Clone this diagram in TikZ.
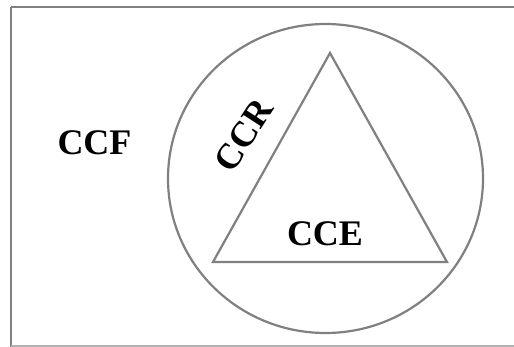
\documentclass[tikz,border=0pt]{standalone}
\usepackage{fontspec}
\setmainfont{Liberation Serif}
\begin{document}
\begin{tikzpicture}[x=1pt,y=-1pt,
  shapeline/.style={draw=black!50, line width=2.2pt},
  lbl/.style={font=\fontsize{36}{36}\selectfont\bfseries, inner sep=0pt, text=black}]
\useasboundingbox (0,0) rectangle (514,347);
\begin{scope}
\clip (0,0) rectangle (514,347);
\draw[shapeline] (11,7) -- (520,7);
\draw[shapeline] (11,7) -- (11,347);
\draw[draw=black!30, line width=1.6pt] (11,346) -- (520,346);
\end{scope}
\draw[shapeline] (325.5,178.5) ellipse [x radius=157.5, y radius=154.5];
\coordinate (apex) at (330,53);
\coordinate (bl) at (213,262);
\coordinate (br) at (447,262);
\draw[shapeline, line join=miter] (apex) -- (bl) -- (br) -- cycle;
\node[lbl] (ccf) at (94.5,143) {CCF};
\node[lbl, rotate=57] (ccr) at (244,135) {CCR};
\node[lbl] (cce) at (325,234) {CCE};
\end{tikzpicture}
\end{document}
